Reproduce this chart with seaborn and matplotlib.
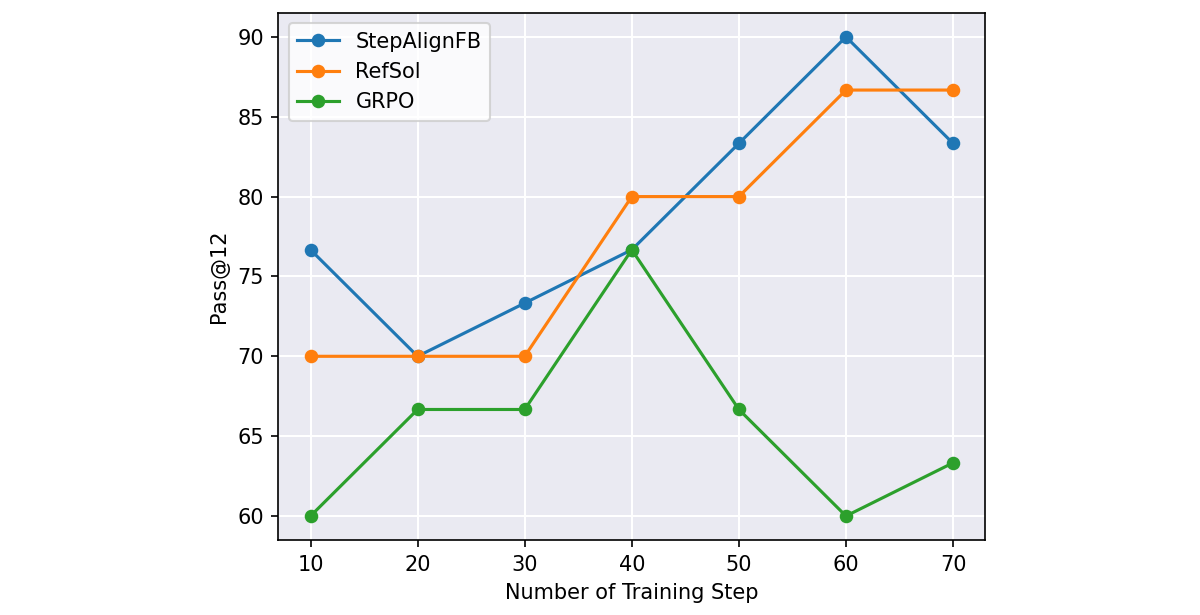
import matplotlib
matplotlib.use('Agg')
import matplotlib.pyplot as plt
import seaborn as sns
import pandas as pd

steps = [10, 20, 30, 40, 50, 60, 70]
stepalign = [76.67, 70.0, 73.33, 76.67, 83.33, 90.0, 83.33]
refsol = [70.0, 70.0, 70.0, 80.0, 80.0, 86.67, 86.67]
grpo = [60.0, 66.67, 66.67, 76.67, 66.67, 60.0, 63.33]

df = pd.DataFrame({
    'step': steps * 3,
    'score': stepalign + refsol + grpo,
    'method': ['StepAlignFB'] * 7 + ['RefSol'] * 7 + ['GRPO'] * 7,
})

fig = plt.figure(figsize=(8, 4.1), dpi=150)
ax = fig.add_axes([0.232, 0.122, 0.589, 0.857])
ax.set_facecolor('#eaeaf2')
ax.grid(True, color='white', linewidth=1.0)
ax.set_axisbelow(True)

sns.lineplot(data=df, x='step', y='score', hue='method', marker='o',
             markersize=6.5, markeredgewidth=0, linewidth=1.5,
             palette=['#1f77b4', '#ff7f0e', '#2ca02c'], ax=ax)

ax.set_xticks(steps)
ax.set_yticks([60, 65, 70, 75, 80, 85, 90])
ax.set_xlim(7, 73)
ax.set_ylim(58.5, 91.5)
ax.set_xlabel('Number of Training Step')
ax.set_ylabel('Pass@12')
ax.legend(loc='upper left', title=None)

plt.savefig('out.png', dpi=150)
